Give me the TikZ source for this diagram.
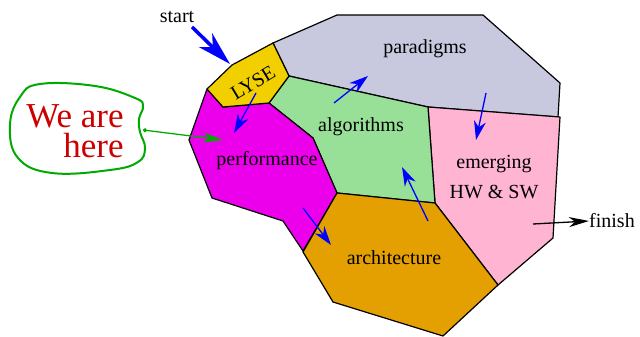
\documentclass[tikz,border=0pt]{standalone}
\usepackage{fontspec}
\setmainfont{Liberation Serif}
\usetikzlibrary{arrows.meta}
\definecolor{cyellow}{RGB}{242,208,0}
\definecolor{cgray}{RGB}{200,200,222}
\definecolor{cgreen}{RGB}{152,224,152}
\definecolor{cpink}{RGB}{255,180,210}
\definecolor{cmag}{RGB}{236,0,236}
\definecolor{corange}{RGB}{228,160,0}
\definecolor{cred}{RGB}{204,0,0}
\definecolor{cblob}{RGB}{0,170,0}
\begin{document}
\begin{tikzpicture}[x=1pt,y=-1pt,
  region/.style={draw=black,line width=1.2pt,line join=round},
  lbl/.style={font=\fontsize{20}{30}\selectfont, inner sep=0pt, align=center},
  barrow/.style={draw=blue, line width=1.3pt, -{Stealth[length=19pt,width=12pt,inset=6pt]}}]
\useasboundingbox (0,0) rectangle (640,337);
% regions
\path[region,fill=cgray] (273,43) -- (337,15) -- (483,15) -- (560,83) -- (558,117) -- (428,107) -- (289,76) -- cycle;
\path[region,fill=cpink] (428,107) -- (560,117) -- (553,238) -- (498,285) -- (435,203) -- cycle;
\path[region,fill=cgreen] (269,103) -- (289,76) -- (428,107) -- (435,203) -- (337,193) -- (313,138) -- cycle;
\path[region,fill=cmag] (207,89) -- (223,107) -- (269,103) -- (313,138) -- (337,193) -- (303,251) -- (283,221) -- (212,198) -- (189,140) -- cycle;
\path[region,fill=corange] (337,193) -- (435,203) -- (498,285) -- (443,336) -- (333,302) -- (303,252) -- cycle;
\path[region,fill=cyellow] (207,89) -- (232,65) -- (273,43) -- (289,76) -- (269,103) -- (223,107) -- cycle;
% labels
\node[lbl] (start) at (177,17) {start};
\node[lbl,rotate=31] (lyse) at (253,83) {LYSE};
\node[lbl] (perf) at (267,161) {performance};
\node[lbl] (para) at (425,49) {paradigms};
\node[lbl] (algo) at (361,127) {algorithms};
\node[lbl] (emer) at (494,177) {emerging\\HW \& SW};
\node[lbl] (arch) at (394,258) {architecture};
\node[lbl,anchor=west] (finish) at (589,221) {finish};
\node[font=\fontsize{35}{30}\selectfont, text=cred, align=right, inner sep=0pt] (here) at (75,131) {We are\\here};
% blob
\draw[cblob, line width=2pt] plot[smooth cycle, tension=0.7] coordinates {(40,84) (95,86) (135,98) (143,106) (139,119) (140,132) (145,148) (138,162) (110,170) (52,173) (18,158) (10,125) (20,97)};
% connectors
\coordinate (s1) at (192,27); \coordinate (s2) at (230,64);
\draw[blue, line width=3.5pt, -{Stealth[length=34pt,width=19pt,inset=10pt]}] (s1) -- (s2);
\coordinate (l1) at (256,93); \coordinate (l2) at (234,133);
\draw[barrow] (l1) -- (l2);
\coordinate (a1) at (334,103); \coordinate (a2) at (368,76);
\draw[barrow] (a1) -- (a2);
\coordinate (p1) at (486,93); \coordinate (p2) at (476,140);
\draw[barrow] (p1) -- (p2);
\coordinate (f1) at (303,208); \coordinate (f2) at (331,245);
\draw[barrow] (f1) -- (f2);
\coordinate (r1) at (428,221); \coordinate (r2) at (402,167);
\draw[barrow] (r1) -- (r2);
\coordinate (h1) at (143,130); \coordinate (h2) at (223,140);
\draw[cblob, line width=1.3pt, {Circle[length=4pt]}-{Stealth[length=20pt,width=10pt,inset=6pt]}] (h1) -- (h2);
\coordinate (e1) at (533,224);
\draw[black, line width=1.3pt, -{Stealth[length=20pt,width=10pt,inset=6pt]}] (e1) -- (finish.west);
\end{tikzpicture}
\end{document}
